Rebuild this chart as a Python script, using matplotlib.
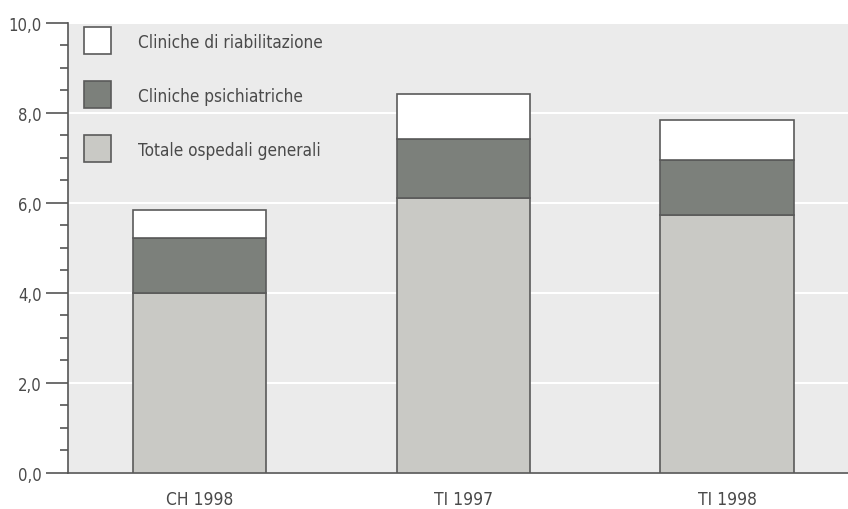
import matplotlib.pyplot as plt
from matplotlib import font_manager
from matplotlib.patches import Rectangle
from matplotlib.ticker import MultipleLocator, FuncFormatter

# data
categories = ['CH 1998', 'TI 1997', 'TI 1998']
ospedali = [4.0, 6.1, 5.73]
psichiatriche = [1.22, 1.33, 1.23]
riabilitazione = [0.62, 1.0, 0.88]

labels = ['Cliniche di riabilitazione', 'Cliniche psichiatriche', 'Totale ospedali generali']
col_osp = '#c9c9c5'
col_psi = '#7c807b'
col_ria = '#ffffff'
edge = '#5a5a5a'
txt = '#4a4a4a'

# look for a narrow font, the original uses a condensed grotesque
names = {f.name for f in font_manager.fontManager.ttflist}
narrow = [f.name for f in font_manager.fontManager.ttflist
          if f.stretch in ('condensed', 'semi-condensed', 'extra-condensed')
          or 'Narrow' in f.name or 'Condensed' in f.name]
stretch = 'normal'
if 'Liberation Sans Narrow' in names:
    fam = 'Liberation Sans Narrow'
elif narrow:
    fam = narrow[0]
    stretch = 'condensed'
else:
    fam = 'DejaVu Sans'
plt.rcParams['font.family'] = [fam, 'DejaVu Sans']
plt.rcParams['font.stretch'] = stretch

fig = plt.figure(figsize=(8.48, 5.10), dpi=100)
ax = fig.add_axes([0.080, 0.0706, 0.920, 0.8824])
ax.set_facecolor('#ebebeb')

x = range(len(categories))
w = 0.505
ax.bar(x, ospedali, w, color=col_osp, edgecolor=edge, linewidth=1.2, zorder=3)
bot = [a for a in ospedali]
ax.bar(x, psichiatriche, w, bottom=bot, color=col_psi, edgecolor=edge, linewidth=1.2, zorder=3)
bot = [a + b for a, b in zip(ospedali, psichiatriche)]
ax.bar(x, riabilitazione, w, bottom=bot, color=col_ria, edgecolor=edge, linewidth=1.2, zorder=3)

ax.set_xlim(-0.501, 2.459)
ax.set_ylim(0, 10)
ax.yaxis.set_major_locator(MultipleLocator(2))
ax.yaxis.set_minor_locator(MultipleLocator(0.5))
ax.yaxis.set_major_formatter(FuncFormatter(lambda v, p: f'{v:.1f}'.replace('.', ',')))
ax.grid(axis='y', color='white', linewidth=1.5, zorder=1)
ax.tick_params(axis='y', which='major', length=16, width=1.2, color='#555555',
               labelsize=12, labelcolor=txt, pad=3)
ax.tick_params(axis='y', which='minor', length=6, width=1.2, color='#555555')
ax.set_xticks(list(x))
ax.set_xticklabels(categories)
ax.tick_params(axis='x', length=0, labelsize=12.5, labelcolor=txt, pad=12)

for s in ['top', 'right']:
    ax.spines[s].set_visible(False)
ax.spines['left'].set_color('#555555')
ax.spines['left'].set_linewidth(1.2)
ax.spines['bottom'].set_color('#555555')
ax.spines['bottom'].set_linewidth(1.2)

# legend drawn by hand: square swatches, wide spacing
W, H = 848, 510
for i, (lab, col) in enumerate(zip(labels, [col_ria, col_psi, col_osp])):
    top = 28 + i * 54
    fig.patches.append(Rectangle((84 / W, 1 - (top + 27) / H), 27 / W, 27 / H,
                                 transform=fig.transFigure, facecolor=col,
                                 edgecolor=edge, linewidth=1.2, zorder=5))
    fig.text(138 / W, 1 - (top + 14.5) / H, lab, fontsize=12.3, color=txt,
             va='center', ha='left')

fig.savefig('out.png', dpi=100)
